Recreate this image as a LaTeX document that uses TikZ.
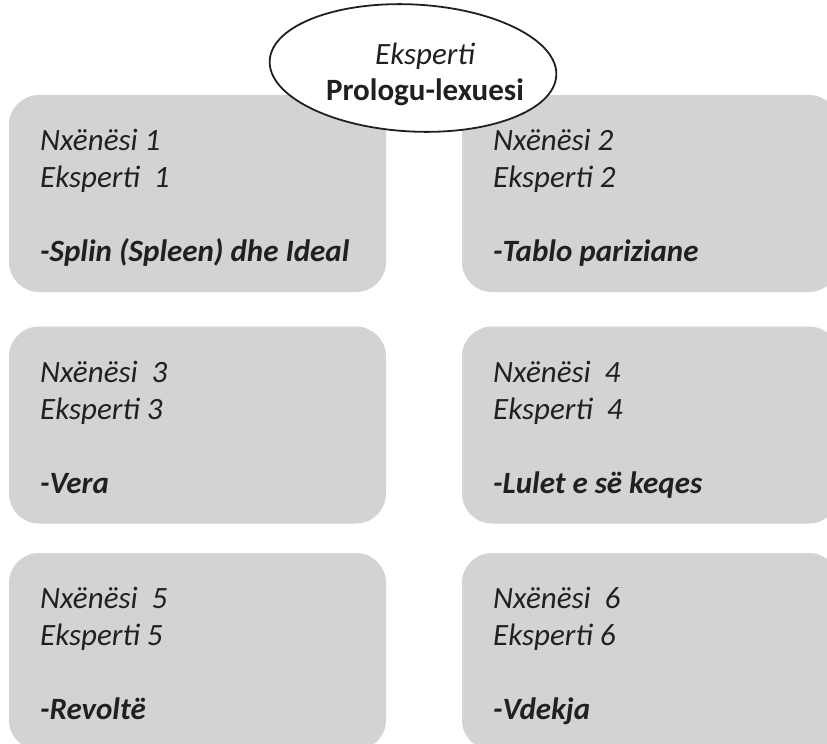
\documentclass[tikz,border=0pt]{standalone}
\usepackage{fontspec}
\setmainfont{Carlito}
\usetikzlibrary{shapes.geometric}
\definecolor{boxgray}{HTML}{D1D3D4}
\definecolor{ink}{HTML}{231F20}
\tikzset{
  card/.style={fill=boxgray, rounded corners=30pt, minimum width=377pt, minimum height=197pt, inner sep=0pt},
  lbl/.style={anchor=base west, inner sep=0pt, text=ink, font=\fontsize{31}{37}\selectfont\itshape},
  ttl/.style={anchor=base west, inner sep=0pt, text=ink, font=\fontsize{31}{37}\selectfont\bfseries\itshape},
  head/.style={draw=ink, fill=white, ellipse, line width=1.8pt, minimum width=287pt, minimum height=127pt, inner sep=0pt},
  htext/.style={anchor=base, inner sep=0pt, text=ink, font=\fontsize{31}{37}\selectfont}
}
\begin{document}
\begin{tikzpicture}[x=1pt,y=-1pt]
\useasboundingbox (0,0) rectangle (827,744);
\clip (0,0) rectangle (827,744);
% boxes
\node[card] (b1) at (197.5,193.5) {};
\node[card] (b2) at (650.5,193.5) {};
\node[card] (b3) at (197.5,425) {};
\node[card] (b4) at (650.5,425) {};
\node[card] (b5) at (197.5,651.5) {};
\node[card] (b6) at (650.5,651.5) {};
% texts box 1
\node[lbl] (t1a) at (40,150) {Nxënësi 1};
\node[lbl] (t1b) at (40,187) {Eksperti\ \ 1};
\node[ttl] (t1c) at (40,261) {-Splin (Spleen) dhe Ideal};
% box 2
\node[lbl] (t2a) at (493,150) {Nxënësi 2};
\node[lbl] (t2b) at (493,187) {Eksperti 2};
\node[ttl] (t2c) at (493,261) {-Tablo pariziane};
% box 3
\node[lbl] (t3a) at (40,382) {Nxënësi\ \ 3};
\node[lbl] (t3b) at (40,419) {Eksperti 3};
\node[ttl] (t3c) at (40,493) {-Vera};
% box 4
\node[lbl] (t4a) at (493,382) {Nxënësi\ \ 4};
\node[lbl] (t4b) at (493,419) {Eksperti\ \ 4};
\node[ttl] (t4c) at (493,493) {-Lulet e së keqes};
% box 5
\node[lbl] (t5a) at (40,608) {Nxënësi\ \ 5};
\node[lbl] (t5b) at (40,645) {Eksperti 5};
\node[ttl] (t5c) at (40,719) {-Revoltë};
% box 6
\node[lbl] (t6a) at (493,608) {Nxënësi\ \ 6};
\node[lbl] (t6b) at (493,645) {Eksperti 6};
\node[ttl] (t6c) at (493,719) {-Vdekja};
% header ellipse
\node[head, rotate=-3] (hd) at (413,68) {};
\node[htext, font=\fontsize{31}{37}\selectfont\itshape] (h1) at (425,64) {Eksperti};
\node[htext, font=\fontsize{31}{37}\selectfont\bfseries] (h2) at (425,100) {Prologu-lexuesi};
\end{tikzpicture}
\end{document}
